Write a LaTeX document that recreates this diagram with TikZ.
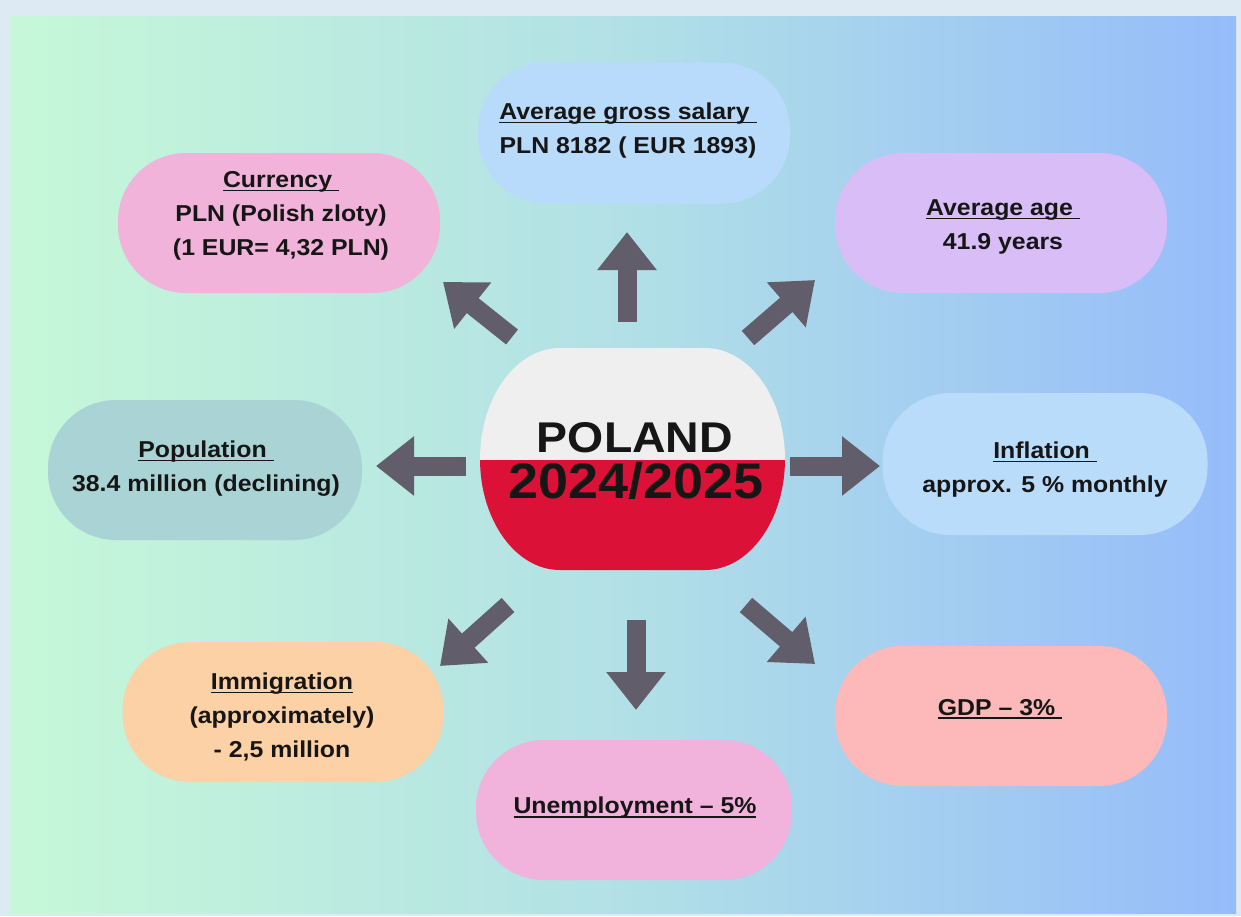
\documentclass[tikz,border=0pt]{standalone}
\usepackage{fontspec}
\setmainfont{Liberation Sans}[FakeStretch=1.08]
\usetikzlibrary{arrows.meta}
\definecolor{frameC}{HTML}{DDE9F3}
\definecolor{bgL}{HTML}{C6F8D8}
\definecolor{bgM}{HTML}{B2E0E6}
\definecolor{bgR}{HTML}{96BCFA}
\definecolor{salC}{HTML}{B9DBFB}
\definecolor{curC}{HTML}{F1B3DA}
\definecolor{ageC}{HTML}{D9BDF7}
\definecolor{popC}{HTML}{A9D3D4}
\definecolor{infC}{HTML}{BADCFB}
\definecolor{immC}{HTML}{FDD1A6}
\definecolor{uneC}{HTML}{F1B2DC}
\definecolor{gdpC}{HTML}{FDB8B9}
\definecolor{flagW}{HTML}{EFEFEF}
\definecolor{flagR}{HTML}{DC1138}
\definecolor{arrC}{HTML}{615D6B}
\definecolor{txtC}{HTML}{161616}
\newcommand\ulx[1]{\setbox0\hbox{#1}\rlap{\rule[-3.8pt]{\wd0}{1.7pt}}\box0}
\tikzset{
  pill/.style={rounded corners=68pt, minimum width=318pt, minimum height=140pt, inner sep=0pt},
  pilltext/.style={align=center, text=txtC, font=\fontsize{23}{34}\selectfont\bfseries, inner sep=0pt},
  blockarrow/.style={draw=arrC, line width=19pt,
    -{Triangle[width=57pt,length=38pt]}, fill=arrC},
}
\begin{document}
\begin{tikzpicture}[x=1pt,y=-1pt]
\useasboundingbox (0,0) rectangle (1241,916);
\fill[frameC] (0,0) rectangle (1241,916);
\shade[left color=bgL, right color=bgR, middle color=bgM] (9,16) rectangle (1236,913);
% boxes
\node[pill, fill=salC, minimum width=312pt, minimum height=141pt] (salary) at (634,133) {};
\node[pilltext] (salaryT) at (628,130.5) {\ulx{Average gross salary\ }\\PLN 8182 ( EUR 1893)};
\node[pill, fill=curC, minimum width=322pt] (currency) at (279,223) {};
\node[pilltext] (currencyT) at (281,216) {\ulx{Currency\ }\\PLN (Polish zloty)\\(1 EUR= 4,32 PLN)};
\node[pill, fill=ageC, minimum width=332pt] (age) at (1001,223) {};
\node[pilltext] (ageT) at (1003,227) {\ulx{Average age\ }\\41.9 years};
\node[pill, fill=popC, minimum width=314pt] (population) at (205,470) {};
\node[pilltext] (populationT) at (206,468.5) {\ulx{Population\ }\\38.4 million (declining)};
\node[pill, fill=infC, minimum width=325pt, minimum height=142pt] (inflation) at (1045,464) {};
\node[pilltext] (inflationT) at (1045,469.5) {\ulx{Inflation\ }\\approx. 5 \% monthly};
\node[pill, fill=immC, minimum width=321pt] (immigration) at (283,712) {};
\node[pilltext] (immigrationT) at (282,717) {\ulx{Immigration}\\(approximately)\\- 2,5 million};
\node[pill, fill=uneC, minimum width=316pt] (unemployment) at (634,810) {};
\node[pilltext] (unemploymentT) at (635,808) {\ulx{Unemployment – 5\%}};
\node[pill, fill=gdpC, minimum width=332pt] (gdp) at (1001,716) {};
\node[pilltext] (gdpT) at (1000,709) {\ulx{GDP – 3\%\ }};
% center flag
\def\centershape{(560,348) -- (705,348) arc[start angle=-90,end angle=90,x radius=80,y radius=111] -- (560,570) arc[start angle=90,end angle=270,x radius=80,y radius=111] -- cycle}
\begin{scope}
\clip \centershape;
\fill[flagW] (470,340) rectangle (800,460);
\fill[flagR] (470,460) rectangle (800,580);
\end{scope}
\node[minimum width=305pt, minimum height=222pt, inner sep=0pt] (center) at (632,459) {};
\node[font=\fontsize{43}{43}\selectfont\bfseries, text=txtC, inner sep=0pt, anchor=base] (title) at (635,452) {POLAND};
\node[font=\fontsize{50}{50}\selectfont\bfseries, text=txtC, inner sep=0pt, anchor=base] (years) at (636,498) {2024/2025};
% arrows
\coordinate (uS) at (627,322); \coordinate (uE) at (627,232);
\coordinate (ulS) at (512,337); \coordinate (ulE) at (443,282);
\coordinate (urS) at (748,338); \coordinate (urE) at (815,280);
\coordinate (lS) at (466,466); \coordinate (lE) at (376,466);
\coordinate (rS) at (790,466); \coordinate (rE) at (880,466);
\coordinate (dlS) at (508,605); \coordinate (dlE) at (440,666);
\coordinate (dS) at (636,620); \coordinate (dE) at (636,710);
\coordinate (drS) at (746,605); \coordinate (drE) at (815,664);
\draw[blockarrow] (uS) -- (uE);
\draw[blockarrow] (ulS) -- (ulE);
\draw[blockarrow] (urS) -- (urE);
\draw[blockarrow] (lS) -- (lE);
\draw[blockarrow] (rS) -- (rE);
\draw[blockarrow] (dlS) -- (dlE);
\draw[blockarrow] (dS) -- (dE);
\draw[blockarrow] (drS) -- (drE);
\end{tikzpicture}
\end{document}
